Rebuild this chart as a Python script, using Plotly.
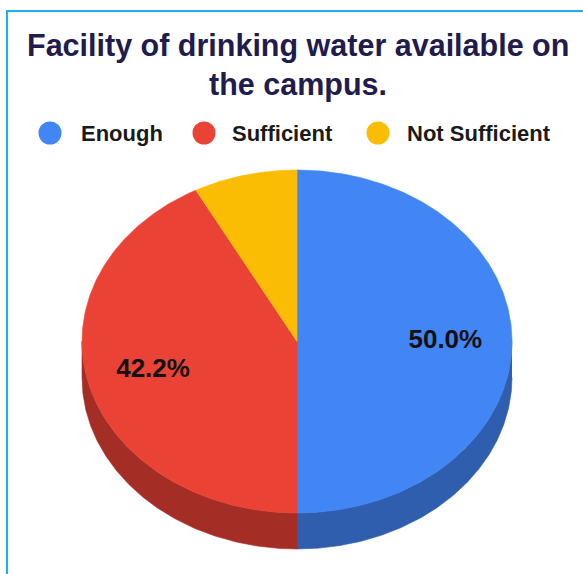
import numpy as np
import plotly.graph_objects as go

# Survey answers and their shares (percent)
categories = ["Enough", "Sufficient", "Not Sufficient"]
shares = [50.0, 42.2, 7.8]
top_colors = ["#4285F4", "#EA4335", "#FBBC04"]
side_colors = ["#2F5EAE", "#A42E26", "#B08403"]

title_lines = ["Facility of drinking water available on", "the campus."]

W, H = 583, 574
FONT = "Liberation Sans, Arial, sans-serif"

# Pie geometry in canvas units (tilted disc drawn as an ellipse with a rim)
cx, cy = 297.0, 341.5
rx, ry = 215.0, 171.5
depth = 36.0
label_frac = 0.69


def ellipse_pts(a0, a1, dy=0.0):
    """Points along the rim, angles in degrees clockwise from 12 o'clock."""
    n = max(int(abs(a1 - a0) * 2), 2)
    t = np.radians(np.linspace(a0, a1, n))
    return cx + rx * np.sin(t), cy - ry * np.cos(t) + dy


fig = go.Figure()

total = sum(shares)
bounds = []
start = 0.0
for v in shares:
    end = start + 360.0 * v / total
    bounds.append((start, end))
    start = end

# Side walls: only the front half (90..270 deg) of the rim is visible
for (a0, a1), col in zip(bounds, side_colors):
    lo, hi = max(a0, 90.0), min(a1, 270.0)
    if hi <= lo:
        continue
    xt, yt = ellipse_pts(lo, hi)
    xb, yb = ellipse_pts(lo, hi, depth)
    xs = np.concatenate([xt, xb[::-1]])
    ys = np.concatenate([yt, yb[::-1]])
    fig.add_trace(go.Scatter(x=xs, y=ys, mode="lines", fill="toself",
                             fillcolor=col, line=dict(color=col, width=0.6),
                             hoverinfo="skip", showlegend=False))

# Top faces
for (a0, a1), col, name in zip(bounds, top_colors, categories):
    xa, ya = ellipse_pts(a0, a1)
    xs = np.concatenate([[cx], xa, [cx]])
    ys = np.concatenate([[cy], ya, [cy]])
    fig.add_trace(go.Scatter(x=xs, y=ys, mode="lines", fill="toself",
                             fillcolor=col, line=dict(color=col, width=0.6),
                             name=name, hoverinfo="skip", showlegend=False))

# Percentage labels on the larger slices
lab_x, lab_y, lab_t = [], [], []
for (a0, a1), v in zip(bounds, shares):
    if v < 10:
        continue
    mid = np.radians((a0 + a1) / 2)
    lab_x.append(cx + label_frac * rx * np.sin(mid))
    lab_y.append(cy - label_frac * ry * np.cos(mid))
    lab_t.append(f"{v:.1f}%")
fig.add_trace(go.Scatter(x=lab_x, y=lab_y, mode="text", text=lab_t,
                         textfont=dict(family=FONT, size=26, color="#111111",
                                       weight="bold"),
                         hoverinfo="skip", showlegend=False))

# Legend row: coloured dots followed by the category names
leg_dot_x = [50, 204, 378]
leg_text_x = [79, 230, 405]
leg_y = 133
fig.add_trace(go.Scatter(x=leg_dot_x, y=[leg_y] * 3, mode="markers",
                         marker=dict(size=23, color=top_colors, line=dict(width=0)),
                         hoverinfo="skip", showlegend=False))
for tx, name in zip(leg_text_x, categories):
    fig.add_annotation(x=tx, y=leg_y, text=f"<b>{name}</b>", showarrow=False,
                       xanchor="left", yanchor="middle",
                       font=dict(family=FONT, size=22, color="#1a1a1a"))

# Two-line heading
for ty, line in zip([45, 84], title_lines):
    fig.add_annotation(x=298, y=ty, text=f"<b>{line}</b>", showarrow=False,
                       xanchor="center", yanchor="middle",
                       font=dict(family=FONT, size=30.5, color="#211b4e"))

# Thin blue frame around the chart area
fig.add_shape(type="rect", x0=7, y0=11, x1=W + 20, y1=H + 20,
              line=dict(color="#1fb0f2", width=2), fillcolor="rgba(0,0,0,0)",
              layer="above")

fig.update_layout(
    width=W, height=H, autosize=False,
    margin=dict(l=0, r=0, t=0, b=0),
    paper_bgcolor="white", plot_bgcolor="white",
    xaxis=dict(range=[0, W], visible=False, fixedrange=True),
    yaxis=dict(range=[H, 0], visible=False, fixedrange=True),
    showlegend=False,
)

fig.write_html("out.html")
